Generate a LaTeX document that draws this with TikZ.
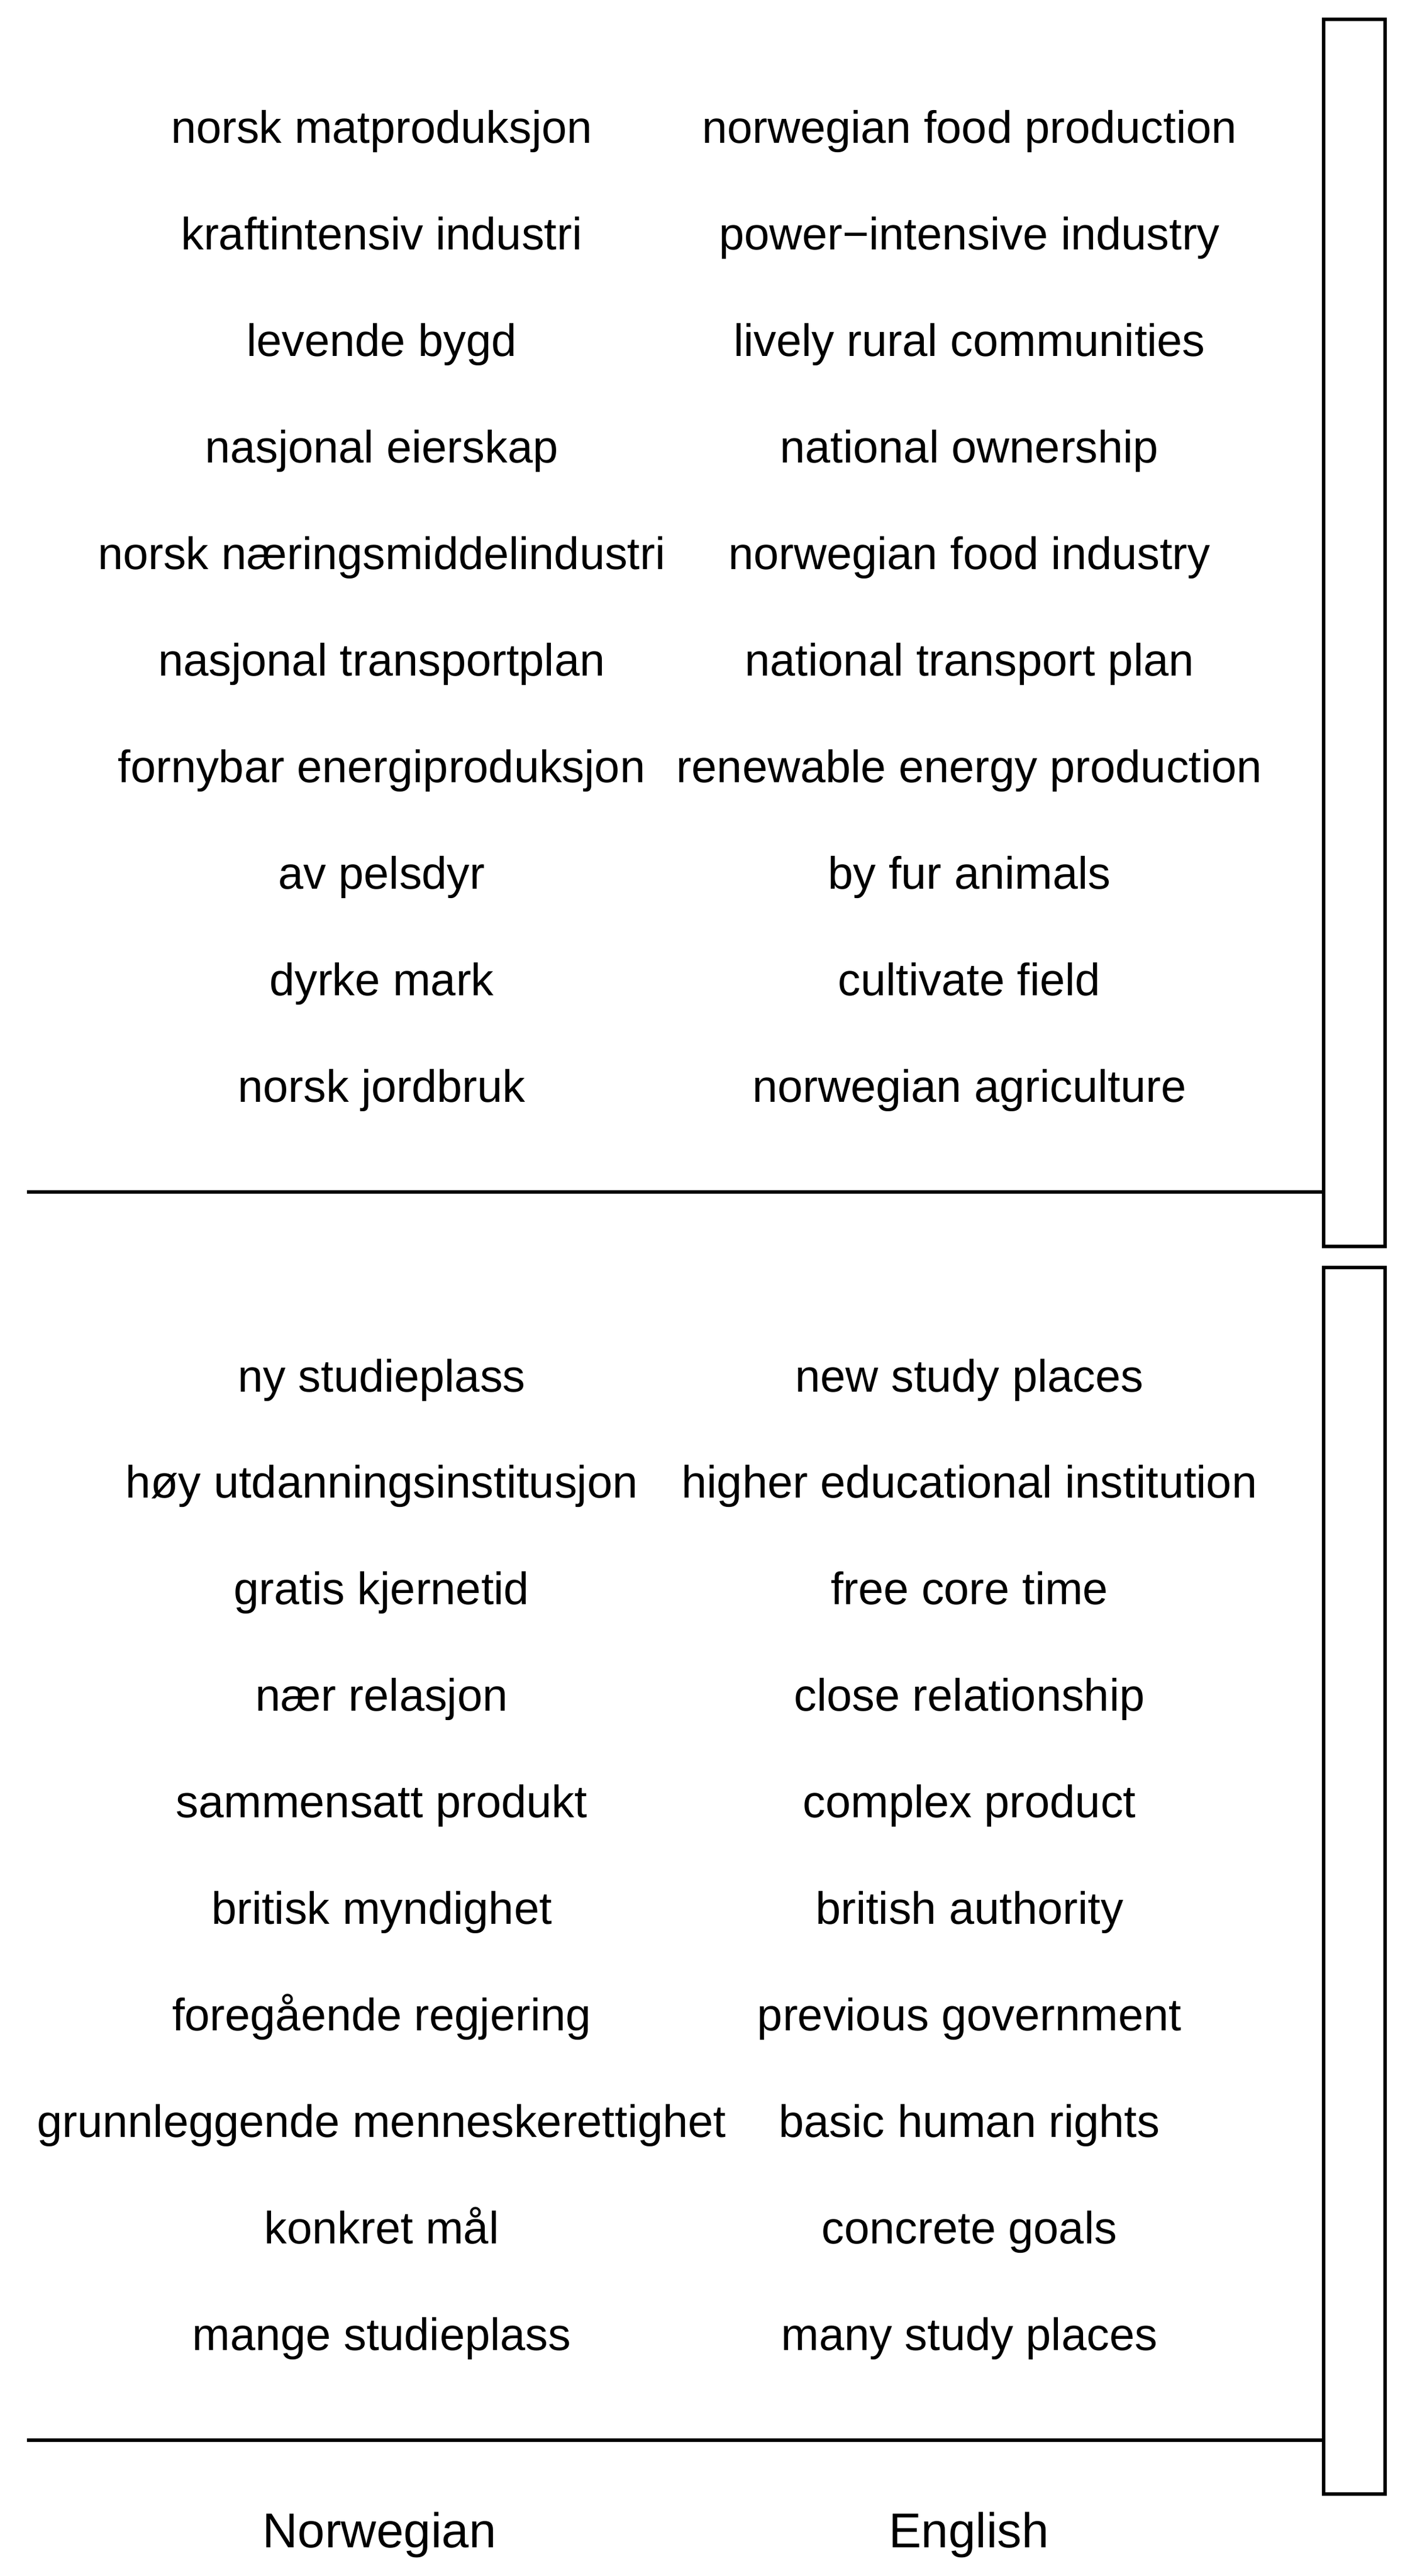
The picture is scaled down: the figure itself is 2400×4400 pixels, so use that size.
\documentclass[tikz,border=0pt]{standalone}
\usepackage{fontspec}
\setmainfont{Liberation Sans}
\begin{document}
\begin{tikzpicture}[x=0.01cm,y=-0.01cm,
  lbl/.style={anchor=base,inner sep=0pt,outer sep=0pt,font=\fontsize{22.05pt}{26pt}\selectfont},
  head/.style={anchor=base,inner sep=0pt,outer sep=0pt,font=\fontsize{23.75pt}{28pt}\selectfont},
  frame/.style={line width=1.62pt,line join=miter},
  rule/.style={line width=1.62pt}]
\useasboundingbox (0,0) rectangle (2400,4400);
% top group
\foreach \no/\en [count=\i from 0] in {
  norsk matproduksjon/norwegian food production,
  kraftintensiv industri/power−intensive industry,
  levende bygd/lively rural communities,
  nasjonal eierskap/national ownership,
  norsk næringsmiddelindustri/norwegian food industry,
  nasjonal transportplan/national transport plan,
  fornybar energiproduksjon/renewable energy production,
  av pelsdyr/by fur animals,
  dyrke mark/cultivate field,
  norsk jordbruk/norwegian agriculture}{
  \node[lbl] (tn\i) at (652,245+181.9*\i) {\no};
  \node[lbl] (te\i) at (1656,245+181.9*\i) {\en};
}
% bottom group
\foreach \no/\en [count=\i from 0] in {
  ny studieplass/new study places,
  høy utdanningsinstitusjon/higher educational institution,
  gratis kjernetid/free core time,
  nær relasjon/close relationship,
  sammensatt produkt/complex product,
  britisk myndighet/british authority,
  foregående regjering/previous government,
  grunnleggende menneskerettighet/basic human rights,
  konkret mål/concrete goals,
  mange studieplass/many study places}{
  \node[lbl] (bn\i) at (652,2377+181.9*\i) {\no};
  \node[lbl] (be\i) at (1656,2377+181.9*\i) {\en};
}
% footer
\node[head] (hn) at (648,4351.5) {Norwegian};
\node[head] (he) at (1655,4351.5) {English};
% boxes
\draw[frame] (2261,33) coordinate (b1tl) rectangle (2366,2129) coordinate (b1br);
\draw[frame] (2261,2165) coordinate (b2tl) rectangle (2366,4260) coordinate (b2br);
% separators
\coordinate (s1) at (46,2036);
\coordinate (s2) at (46,4168);
\draw[rule] (s1) -- (s1 -| b1tl);
\draw[rule] (s2) -- (s2 -| b2tl);
\end{tikzpicture}
\end{document}
